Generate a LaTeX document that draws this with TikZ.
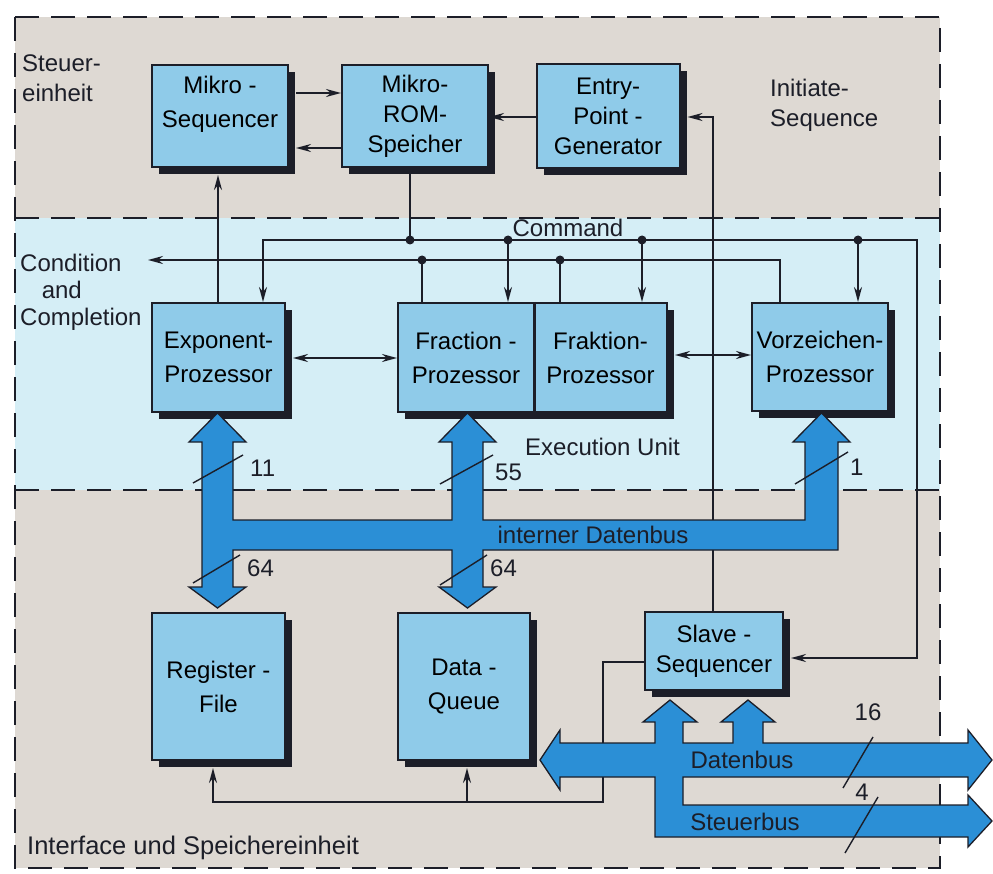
\documentclass[tikz,border=0pt]{standalone}
\usepackage{fontspec}
\setmainfont{Liberation Sans}
\usetikzlibrary{arrows.meta,shadows,calc}
\definecolor{bandgrey}{HTML}{DED9D3}
\definecolor{bandcyan}{HTML}{D5EEF6}
\definecolor{boxblue}{HTML}{8FCBE9}
\definecolor{busblue}{HTML}{2B8FD6}
\definecolor{darkline}{HTML}{1C1E28}
\newcommand\dgfont{\fontsize{24}{34}\selectfont}
\newcommand\dgfontb{\fontsize{24}{30}\selectfont}
\begin{document}
\begin{tikzpicture}[x=1pt,y=-1pt,
  box/.style={draw=darkline, line width=2pt, fill=boxblue, align=center, inner sep=0pt, font=\dgfont,
    drop shadow={shadow xshift=7pt, shadow yshift=-7pt, opacity=1, fill=darkline}},
  dline/.style={draw=darkline, line width=1.8pt},
  arr/.style={-{Stealth[length=15pt,width=8pt]}},
  darr/.style={{Stealth[length=15pt,width=8pt]}-{Stealth[length=15pt,width=8pt]}},
  bus/.style={fill=busblue, draw=darkline, line width=1.3pt, line join=miter},
  border/.style={draw=darkline, line width=2.6pt, dash pattern=on 24pt off 12pt},
  lbl/.style={font=\dgfont, text=darkline, inner sep=0pt},
  slash/.style={draw=darkline, line width=1.4pt},
  jdot/.style={fill=darkline}]
\useasboundingbox (0,0) rectangle (993,874);
\fill[white] (0,0) rectangle (993,874);
% bands
\fill[bandgrey] (15,17) rectangle (940,218);
\fill[bandcyan] (15,218) rectangle (940,490);
\fill[bandgrey] (15,490) rectangle (940,868);
\draw[border] (15,17) -- (940,17) -- (940,868) -- (15,868) -- cycle;
\draw[border] (15,218) -- (940,218);
\draw[border] (15,490) -- (940,490);

% band labels
\node[lbl, anchor=north west, align=left, font=\dgfontb] (steuer) at (22,55) {Steuer-\\einheit};
\node[lbl, anchor=north west, align=left, font=\dgfontb] (init) at (770,79) {Initiate-\\Sequence};
\node[lbl, anchor=north west, align=left, font={\fontsize{24}{27}\selectfont}] (cond) at (20,254) {Condition\\\hspace*{0.9em}and\\Completion};
\node[lbl, anchor=west] (iface) at (27,848) {\fontsize{25.5}{30}\selectfont Interface und Speichereinheit};
\node[lbl, anchor=west] (exec) at (525,447) {Execution Unit};
\node[lbl] (cmd) at (568,228) {Command};

% boxes
\node[box, minimum width=136pt, minimum height=102pt] (mseq) at (220,116) {Mikro -\\Sequencer\\[-6pt]};
\node[box, minimum width=146pt, minimum height=102pt, font=\dgfontb] (mrom) at (415,116) {Mikro-\\ROM-\\Speicher};
\node[box, minimum width=143pt, minimum height=104pt, font=\dgfontb] (epg) at (608,116) {Entry-\\Point -\\Generator};
\node[box, minimum width=133pt, minimum height=109pt] (exp) at (218.5,357.5) {Exponent-\\Prozessor};
\node[box, minimum width=136pt, minimum height=109pt] (frac) at (466,357.5) {Fraction -\\Prozessor};
\node[box, minimum width=133pt, minimum height=109pt] (frak) at (600.5,357.5) {Fraktion-\\Prozessor};
\node[box, minimum width=136pt, minimum height=108pt] (vz) at (820,357) {Vorzeichen-\\Prozessor};
\node[box, minimum width=133pt, minimum height=147pt] (reg) at (218.5,686.5) {Register -\\File};
\node[box, minimum width=132pt, minimum height=147pt] (dq) at (464,686.5) {Data -\\Queue};
\node[box, minimum width=138pt, minimum height=78pt, font=\dgfontb] (slave) at (714,651) {Slave -\\Sequencer};
% redraw the divider between fraction boxes
\draw[dline, line width=2pt] (frac.north east) -- (frac.south east);

% shadow edges as coordinates
\coordinate (mseqE) at ([xshift=7pt]mseq.east);
\coordinate (mseqS) at ([yshift=-7pt]mseq.south);
\coordinate (epgE) at ([xshift=7pt]epg.east);
\coordinate (expE) at ([xshift=7pt]exp.east);
\coordinate (frakE) at ([xshift=7pt]frak.east);
\coordinate (slaveE) at ([xshift=7pt]slave.east);
\coordinate (regS) at ([yshift=-7pt]reg.south);
\coordinate (dqS) at ([yshift=-7pt]dq.south);

% control unit connectors
\draw[dline, arr] (mseqE |- 0,93) -- (mrom.west |- 0,93);
\draw[dline, arr] (mrom.west |- 0,148) -- (mseqE |- 0,148);
\draw[dline, arr] (epg.west |- 0,117) -- (mrom.east |- 0,117);
\coordinate (epgR) at (713,117);
\draw[dline, arr] (slave.north -| epgR) -- (epgR) -- (epgE |- epgR);
\draw[dline, arr] (exp.north -| 218,0) -- (mseqS -| 218,0);

% command line
\coordinate (cmdL) at (263,240);
\coordinate (cmdR) at (917,240);
\coordinate (cmdD) at (917,658);
\draw[dline, darr] (exp.north -| cmdL) -- (cmdL) -- (cmdR) -- (cmdD) -- (slaveE |- cmdD);
\coordinate (romJ) at (410,240);
\draw[dline] (mrom.south -| romJ) -- (romJ);
\fill[jdot] (romJ) circle (4.5pt);
\coordinate (c1) at (508,240);
\coordinate (c2) at (642,240);
\coordinate (c3) at (858,240);
\draw[dline, arr] (c1) -- (frac.north -| c1);
\draw[dline, arr] (c2) -- (frak.north -| c2);
\draw[dline, arr] (c3) -- (vz.north -| c3);
\foreach \c in {c1,c2,c3} \fill[jdot] (\c) circle (4.5pt);

% condition line
\coordinate (cdR) at (780,260);
\coordinate (cdL) at (148,260);
\draw[dline, arr] (vz.north -| cdR) -- (cdR) -- (cdL);
\coordinate (d1) at (422,260);
\coordinate (d2) at (560,260);
\draw[dline] (frac.north -| d1) -- (d1);
\draw[dline] (frak.north -| d2) -- (d2);
\foreach \c in {d1,d2} \fill[jdot] (\c) circle (4.5pt);

% horizontal processor links
\draw[dline, darr] (expE |- 0,358) -- (frac.west |- 0,358);
\draw[dline, darr] (frakE |- 0,355) -- (vz.west |- 0,355);

% lower line
\coordinate (lw1) at (603,662);
\coordinate (lw2) at (603,802);
\coordinate (lw3) at (213,802);
\coordinate (lw4) at (467,802);
\draw[dline, arr] (slave.west |- lw1) -- (lw1) -- (lw2) -- (lw3) -- (regS -| lw3);
\draw[dline, arr] (lw4) -- (dqS -| lw4);

% internal data bus
\draw[bus] (217.5,413) -- (246,442) -- (233,442) -- (233,520) -- (452,520) -- (452,442) -- (439,442)
  -- (467.5,413) -- (496,442) -- (483,442) -- (483,520) -- (805,520) -- (805,442) -- (793,442)
  -- (821.5,413) -- (850,442) -- (838,442) -- (838,550) -- (483,550) -- (483,587) -- (496,587)
  -- (467.5,608) -- (439,587) -- (452,587) -- (452,550) -- (233,550) -- (233,587) -- (246,587)
  -- (217.5,608) -- (189,587) -- (202,587) -- (202,442) -- (189,442) -- cycle;
% Datenbus and Steuerbus
\draw[bus] (540,760) -- (560,730) -- (560,743) -- (655,743) -- (655,722) -- (643,722) -- (670,700)
  -- (697,722) -- (683,722) -- (683,743) -- (733,743) -- (733,722) -- (721,722) -- (748,700)
  -- (775,722) -- (763,722) -- (763,743) -- (968,743) -- (968,730) -- (992,760) -- (968,790)
  -- (968,777) -- (683,777) -- (683,805) -- (968,805) -- (968,795) -- (992,821) -- (968,847)
  -- (968,837) -- (655,837) -- (655,777) -- (560,777) -- (560,790) -- cycle;

% bus labels and slashes
\draw[slash] (193,483) -- (243,455);
\node[lbl, anchor=west] (n11) at (250,468) {11};
\draw[slash] (440,484) -- (493,455);
\node[lbl, anchor=west] (n55) at (495,472) {55};
\draw[slash] (795,484) -- (848,452);
\node[lbl, anchor=west] (n1) at (850,467) {1};
\draw[slash] (193,583) -- (240,555);
\node[lbl, anchor=west] (n64a) at (247,568) {64};
\draw[slash] (440,585) -- (487,555);
\node[lbl, anchor=west] (n64b) at (490,568) {64};
\node[lbl] (ibus) at (593,535) {interner Datenbus};
\node[lbl] (dbus) at (742,760) {Datenbus};
\node[lbl] (sbus) at (745,822) {Steuerbus};
\draw[slash] (843,788) -- (873,737);
\node[lbl] (n16) at (868,712) {16};
\draw[slash] (845,853) -- (878,797);
\node[lbl] (n4) at (862,792) {4};
\end{tikzpicture}
\end{document}
